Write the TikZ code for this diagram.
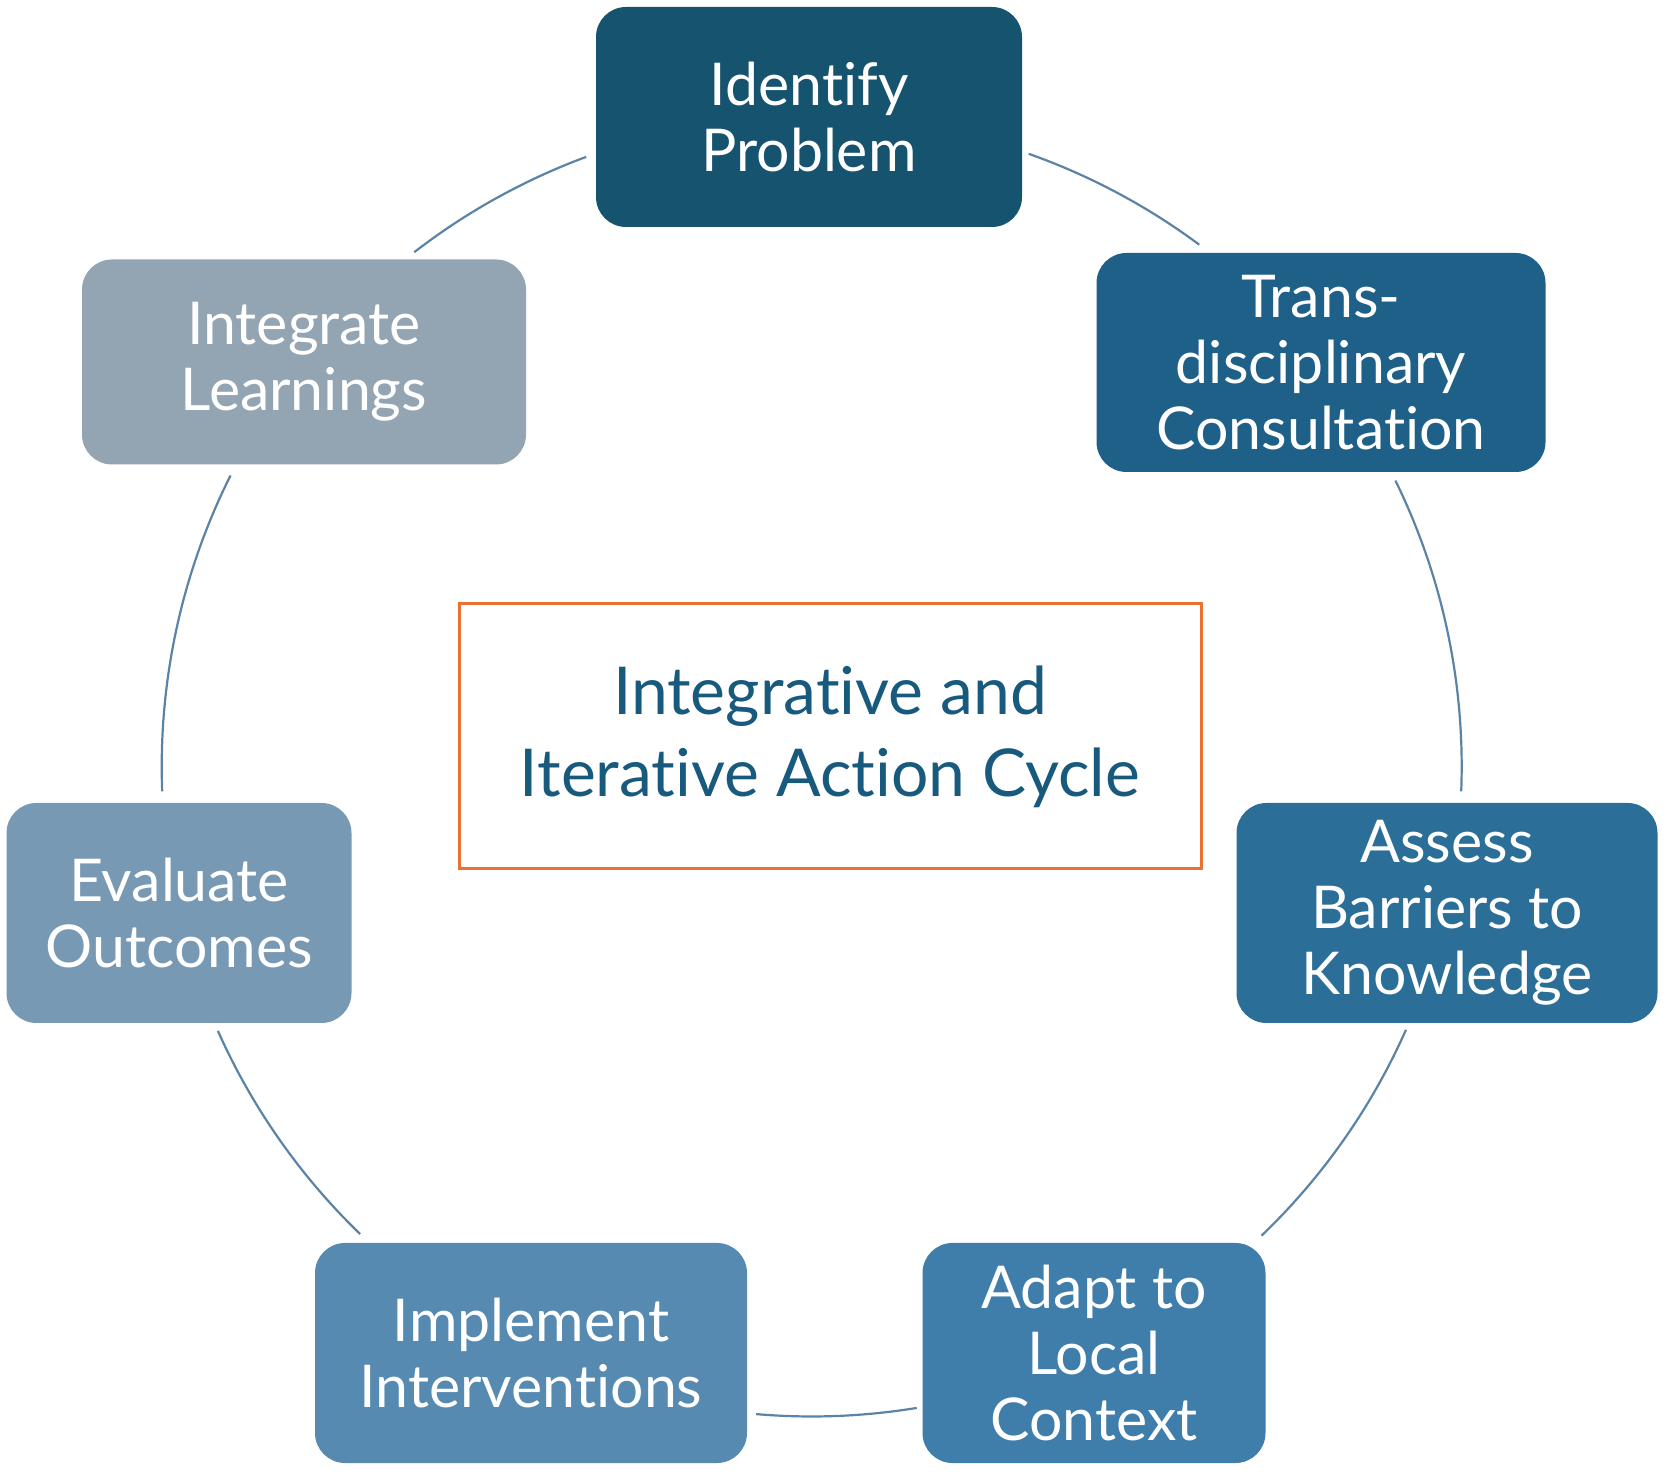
\documentclass[tikz,border=0pt]{standalone}
\usepackage{fontspec}
\setmainfont{Lato}[Ligatures={NoCommon}]
\definecolor{cA}{HTML}{15536F}
\definecolor{cB}{HTML}{1F6088}
\definecolor{cC}{HTML}{2B6F99}
\definecolor{cD}{HTML}{3F7DAA}
\definecolor{cE}{HTML}{578AB1}
\definecolor{cF}{HTML}{7899B4}
\definecolor{cG}{HTML}{93A5B3}
\definecolor{linkc}{HTML}{5B83A5}
\definecolor{orangec}{HTML}{E97132}
\definecolor{titlec}{HTML}{175A7E}
\begin{document}
\begin{tikzpicture}[x=1pt,y=1pt,
  stage/.style={rounded corners=30pt, text=white, align=center, minimum height=220pt,
    inner sep=0pt, font=\fontsize{59}{66}\selectfont},
  link/.style={draw=linkc, line width=2.2pt},
  hubbox/.style={draw=orangec, line width=3pt, fill=white, align=center, inner sep=0pt,
    minimum width=742pt, minimum height=265pt, text=titlec, font=\fontsize{66}{82}\selectfont}]
\useasboundingbox (0,0) rectangle (1667,1475);
\coordinate (hub) at (811.7,708.5);
% arcs
\foreach \s/\e/\n in {70.5/53.4/1, 26.1/-2.2/2, -23.9/-46.2/3, -80.7/-94.9/4,
                      -134/-156/5, 182.2/153.4/6, 127.7/110.3/7}{
  \coordinate (arc\n) at ([shift={(\s:650)}]hub);
  \draw[link] (arc\n) arc[start angle=\s, end angle=\e, radius=650pt];
}
\node[stage, fill=cA, minimum width=426pt] (identify) at (809,1358) {Identify\\Problem};
\node[stage, fill=cB, minimum width=449pt, minimum height=219pt] (trans) at (1321,1112.5) {Trans-\\disciplinary\\Consultation};
\node[stage, fill=cC, minimum width=421pt] (assess) at (1447,562) {Assess\\Barriers to\\Knowledge};
\node[stage, fill=cD, minimum width=343pt] (adapt) at (1094,122) {Adapt to\\Local\\Context};
\node[stage, fill=cE, minimum width=432pt] (implement) at (531,122) {Implement\\Interventions};
\node[stage, fill=cF, minimum width=345pt] (evaluate) at (179,562) {Evaluate\\Outcomes};
\node[stage, fill=cG, minimum width=444pt, minimum height=205pt] (integrate) at (304,1113) {Integrate\\Learnings};
\node[hubbox] (title) at (830,738.5) {Integrative and\\Iterative Action Cycle};
\end{tikzpicture}
\end{document}
